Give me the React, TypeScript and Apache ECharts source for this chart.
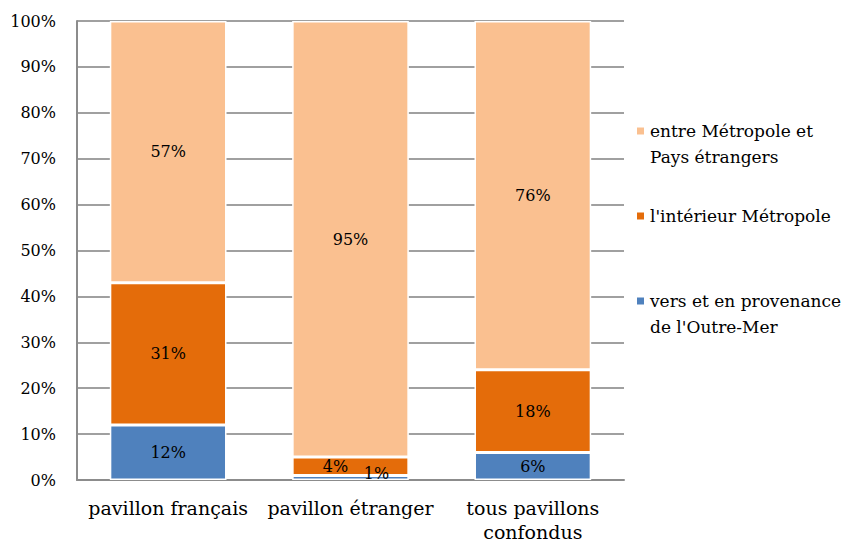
import React, { useEffect, useRef } from "react";
import * as echarts from "echarts";

const categories = ["pavillon français", "pavillon étranger", "tous pavillons\nconfondus"];
const outreMer = [12, 1, 6];
const interieur = [31, 4, 18];
const etrangers = [57, 95, 76];
const yTicks = [0, 10, 20, 30, 40, 50, 60, 70, 80, 90, 100];

const seriesNames = [
  "vers et en provenance\nde l'Outre-Mer",
  "l'intérieur Métropole",
  "entre Métropole et\nPays étrangers",
];
const colors = ["#4F81BD", "#E46C0A", "#FAC090"];

const FONT = "DejaVu Serif";
const LH = 26;

export default function App() {
  const ref = useRef<HTMLDivElement>(null);
  useEffect(() => {
    if (!ref.current) return;
    const chart = echarts.init(ref.current, undefined, { renderer: "svg" });
    const values = [outreMer, interieur, etrangers];
    const labelOffsets: Record<string, [number, number]> = {
      "0-1": [26, -4],
      "1-1": [-15, 0],
    };
    const mkSeries = (i: number) => ({
      name: seriesNames[i],
      type: "bar",
      stack: "total",
      barCategoryGap: "36%",
      data: values[i].map((v, j) => {
        const off = labelOffsets[`${i}-${j}`];
        return off ? { value: v, label: { offset: off } } : v;
      }),
      itemStyle: { color: colors[i], borderColor: "#ffffff", borderWidth: 1.5 },
      label: {
        show: true,
        position: "inside",
        formatter: "{c}%",
        color: "#000",
        fontFamily: FONT,
        fontSize: 16,
      },
    });
    const legendDefs: [number, number, number][] = [
      [2, 131, 2],
      [1, 216, 1],
      [0, 301, 2],
    ];
    const legends = legendDefs.map(([si, cy, lines]) => {
      const totalLines = lines > 1 ? lines + 1 : 1;
      const boxH = totalLines * LH;
      return {
        left: 635,
        top: cy - boxH / 2,
        padding: 0,
        orient: "vertical",
        itemWidth: 9,
        itemHeight: 9,
        itemGap: 6,
        icon: "rect",
        selectedMode: false,
        data: [seriesNames[si]],
        formatter: (name: string) => (lines > 1 ? "\u00a0\n" + name : name),
        textStyle: {
          fontFamily: FONT,
          fontSize: 17,
          color: "#000",
          lineHeight: LH,
        },
      };
    });
    chart.setOption({
      animation: false,
      color: colors,
      textStyle: { fontFamily: FONT },
      grid: {
        left: 77,
        right: 227,
        top: 21,
        bottom: 65,
        containLabel: false,
        outerBoundsMode: "none",
      },
      legend: legends,
      xAxis: {
        type: "category",
        data: categories,
        axisLine: { show: true, lineStyle: { color: "#8c8c8c", width: 2 } },
        axisTick: { show: false },
        axisLabel: {
          fontFamily: FONT,
          fontSize: 19,
          color: "#000",
          margin: 16,
          lineHeight: 24,
          interval: 0,
        },
      },
      yAxis: {
        type: "value",
        min: yTicks[0],
        max: yTicks[yTicks.length - 1],
        interval: 10,
        axisLine: { show: true, lineStyle: { color: "#8c8c8c", width: 2 } },
        axisTick: { show: false },
        splitLine: { show: true, lineStyle: { color: "#a0a0a0", width: 2 } },
        axisLabel: {
          formatter: "{value}%",
          fontFamily: FONT,
          fontSize: 16,
          color: "#000",
          margin: 21,
        },
      },
      series: [mkSeries(0), mkSeries(1), mkSeries(2)],
    });
    return () => chart.dispose();
  }, []);
  return <div ref={ref} style={{ width: 851, height: 545, position: "absolute", left: 0, top: 0 }} />;
}
